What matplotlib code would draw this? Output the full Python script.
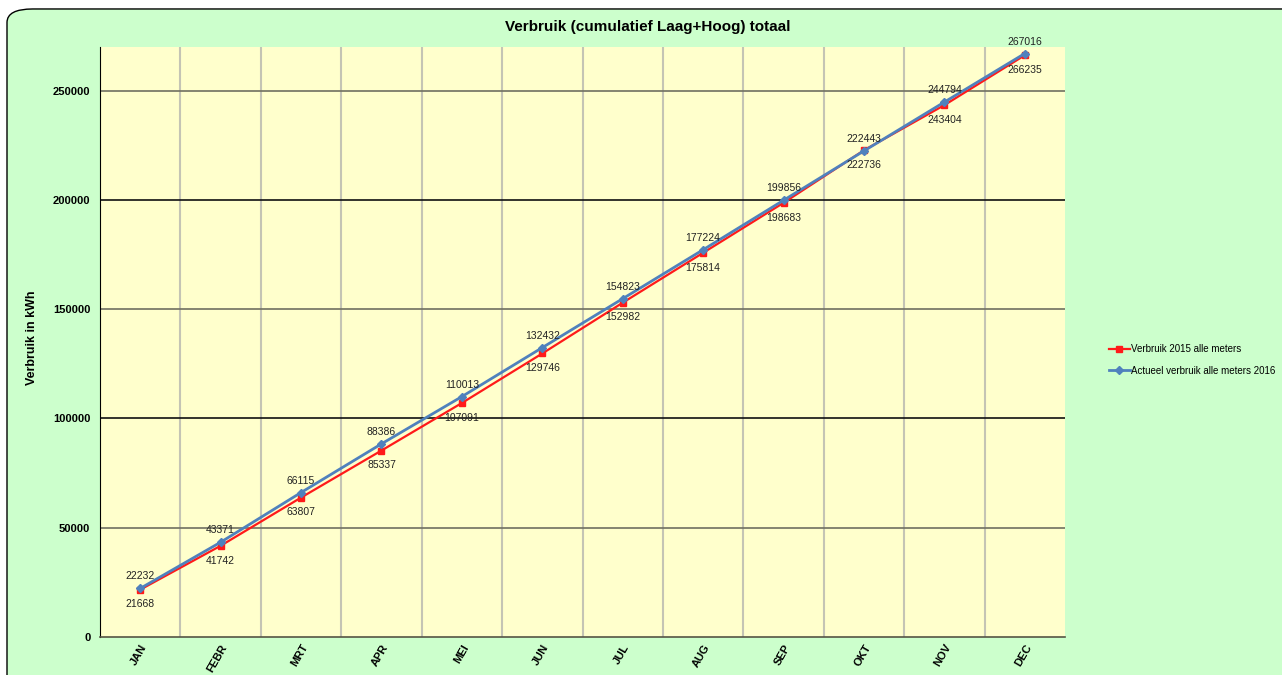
import matplotlib.pyplot as plt
from matplotlib.patches import FancyBboxPatch
from matplotlib.transforms import ScaledTranslation

months = ["JAN", "FEBR", "MRT", "APR", "MEI", "JUN", "JUL", "AUG", "SEP", "OKT", "NOV", "DEC"]
verbruik_2015 = [21668, 41742, 63807, 85337, 107091, 129746, 152982, 175814, 198683, 222736, 243404, 266235]
actueel_2016 = [22232, 43371, 66115, 88386, 110013, 132432, 154823, 177224, 199856, 222443, 244794, 267016]
y_ticks = [0, 50000, 100000, 150000, 200000, 250000]

plt.rcParams['font.family'] = ['Liberation Sans', 'DejaVu Sans']

fig = plt.figure(figsize=(12.82, 6.75), dpi=100)
fig.patch.set_facecolor('white')

# green rounded panel behind everything
panel = FancyBboxPatch((7 / 1282, -0.05), 1.2, 0.9867 + 0.05,
                       boxstyle="round,pad=0,rounding_size=0.02",
                       transform=fig.transFigure, facecolor='#ccffcc',
                       edgecolor='black', linewidth=1.0, zorder=-5)
fig.patches.append(panel)

ax = fig.add_axes([100 / 1282, 1 - 637 / 675, 965 / 1282, 590 / 675])
ax.set_facecolor('#ffffcc')

x = list(range(len(months)))
ax.set_xlim(-0.5, len(months) - 0.5)
ax.set_ylim(0, 270000)

# grid
for i in range(1, len(months)):
    ax.axvline(i - 0.5, color='#c4c4b4', lw=1.5, zorder=1)
for k, t in enumerate(y_ticks[1:]):
    ax.axhline(t, color='#707060' if k % 2 == 0 else '#111111', lw=1.2, zorder=1)

ax.plot(x, verbruik_2015, color='#ff1a1a', lw=1.6, marker='s', markersize=4,
        label='Verbruik 2015 alle meters', zorder=3)
ax.plot(x, actueel_2016, color='#4f81bd', lw=2.0, marker='D', markersize=4.5,
        label='Actueel verbruik alle meters 2016', zorder=4)

for xi, r, b in zip(x, verbruik_2015, actueel_2016):
    ax.annotate(str(b), (xi, b), xytext=(0, 5), textcoords='offset points',
                ha='center', va='bottom', fontsize=7.5, color='#222222', zorder=5,
                annotation_clip=False)
    ax.annotate(str(r), (xi, r), xytext=(0, -7), textcoords='offset points',
                ha='center', va='top', fontsize=7.5, color='#222222', zorder=5)

ax.set_xticks(x)
ax.set_xticklabels(months, rotation=60, ha='right', rotation_mode='anchor',
                   fontsize=8, fontweight='bold')
shift = ScaledTranslation(5 / 100, 0, fig.dpi_scale_trans)
for lbl in ax.get_xticklabels():
    lbl.set_transform(lbl.get_transform() + shift)
ax.set_yticks(y_ticks)
ax.set_yticklabels([str(t) for t in y_ticks], fontsize=8, fontweight='bold')
ax.tick_params(length=0)
ax.tick_params(axis='y', pad=7)
ax.tick_params(axis='x', pad=4)

for side in ['top', 'right']:
    ax.spines[side].set_visible(False)
ax.spines['left'].set_color('black')
ax.spines['bottom'].set_color('#555544')
ax.spines['bottom'].set_linewidth(1.2)

fig.text(32 / 1282, 1 - 338 / 675, 'Verbruik in kWh', rotation=90, ha='center',
         va='center', fontsize=9, fontweight='bold')
fig.text(648 / 1282, 1 - 27 / 675, 'Verbruik (cumulatief Laag+Hoog) totaal',
         ha='center', va='center', fontsize=11, fontweight='bold')

fig.legend(loc='center left', bbox_to_anchor=(1100 / 1282, 1 - 360 / 675),
           frameon=False, fontsize=7, handlelength=2.2, handletextpad=0.1,
           labelspacing=1.2)

fig.savefig('out.png', dpi=100)
